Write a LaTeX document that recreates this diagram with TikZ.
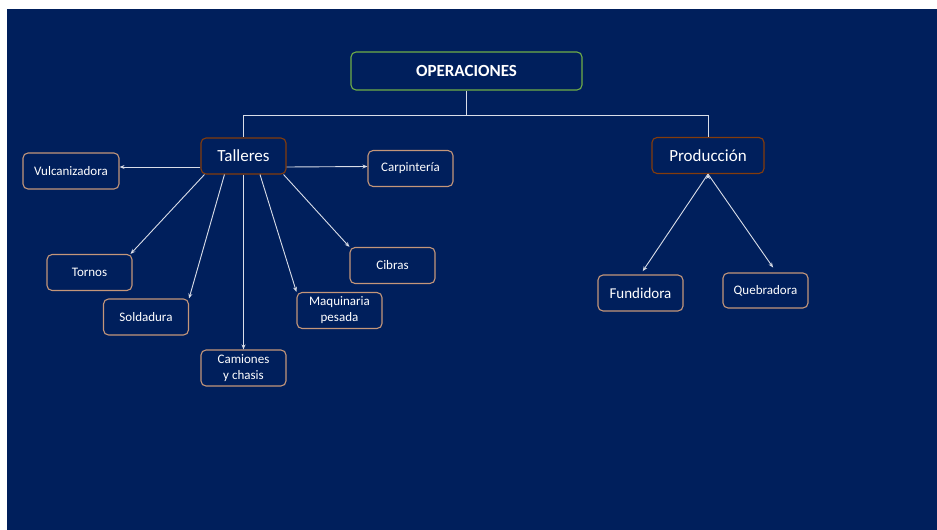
\documentclass[tikz,border=0pt]{standalone}
\usepackage{fontspec}
\setmainfont{Carlito}
\usepackage{tikz}
\usetikzlibrary{positioning, arrows.meta}

\definecolor{bgblue}{HTML}{001F5C}
\definecolor{opgreen}{HTML}{70AD47}
\definecolor{midbrown}{HTML}{843C0C}
\definecolor{leaftan}{HTML}{C4967A}
\definecolor{linegray}{HTML}{D9DDE8}

\begin{document}
\begin{tikzpicture}[x=1pt,y=-1pt,
    box/.style={draw, rounded corners=5pt, line width=1.1pt, text=white, align=center, inner sep=2pt},
    rootbox/.style={box, draw=opgreen, minimum width=231pt, minimum height=38pt, font=\fontsize{17}{20}\selectfont\bfseries},
    groupbox/.style={box, draw=midbrown, minimum height=36pt, font=\fontsize{17}{20}\selectfont},
    leafbox/.style={box, draw=leaftan, minimum width=85pt, minimum height=36pt, font=\fontsize{13}{16}\selectfont},
    trunk/.style={draw=linegray, line width=0.9pt},
    link/.style={trunk, -{Stealth[length=5pt,width=4pt]}}]
        \useasboundingbox (0,0) rectangle (937,530);
        \fill[white] (0,0) rectangle (937,530);
        \fill[bgblue] (7,9) rectangle (937,530);

        \node[rootbox](ops) at (466.5,71) {OPERACIONES};
        \node[groupbox, minimum width=85pt](tall) at (243.5,156) {Talleres};
        \node[groupbox, minimum width=112pt](prod) at (708,155.5) {Producción};
        \node[leafbox, minimum width=96pt](vul) at (71,171) {Vulcanizadora};
        \node[leafbox](carp) at (410.5,168.5) {Carpintería};
        \node[leafbox](tornos) at (89.5,272.5) {Tornos};
        \node[leafbox](sold) at (146,317) {Soldadura};
        \node[leafbox](cam) at (243.5,368) {Camiones\\y chasis};
        \node[leafbox](maq) at (339.5,310.5) {Maquinaria\\pesada};
        \node[leafbox](cib) at (392.5,265.5) {Cibras};
        \node[leafbox](fund) at (640.5,293) {\fontsize{15}{18}\selectfont Fundidora};
        \node[leafbox, minimum height=35pt](queb) at (765.5,290.5) {Quebradora};

        \coordinate (split) at (466.5,115);
        \draw[trunk] (ops.south) -- (split) -| (tall.north);
        \draw[trunk] (split) -| (prod.north);

        \path[link]
        ([yshift=-11pt]tall.west) edge ([yshift=4pt]vul.east)
        ([yshift=-11pt]tall.east) edge ([yshift=2pt]carp.west)
        ([xshift=4pt]tall.south west) edge ([xshift=-2pt]tornos.north east)
        ([xshift=24pt]tall.south west) edge (sold.north east)
        (tall.south) edge (cam.north)
        ([xshift=16.5pt]tall.south) edge (maq.north west)
        ([xshift=-3pt]tall.south east) edge (cib.north west)
        (prod.south) edge[shorten >=4pt] (fund.north)
        (prod.south) edge[shorten >=6pt] ([xshift=11pt]queb.north);
\end{tikzpicture}
\end{document}
